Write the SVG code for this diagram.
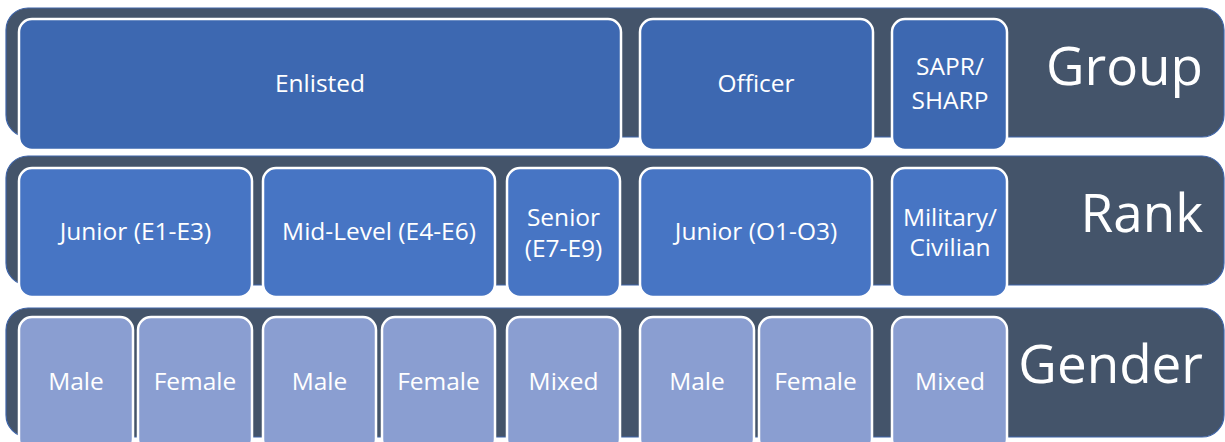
<svg xmlns="http://www.w3.org/2000/svg" width="1225" height="442" viewBox="0 0 1225 442">
<style>
.band{fill:#44546A;stroke:#3E64A8;stroke-width:1.2}
.n{stroke:#FFFFFF;stroke-width:2.5}
.g{fill:#3D68B1}
.r{fill:#4775C4}
.s{fill:#8A9ED1}
text{font-family:"Open Sans","Noto Sans","DejaVu Sans",sans-serif;fill:#FFFFFF}
.t{font-size:24.5px;text-anchor:middle}
.big{font-size:53px;text-anchor:end}
</style>
<rect width="1225" height="442" fill="#FFFFFF"/>
<g id="band-group"><rect class="band" x="6" y="8" width="1218" height="129" rx="22"/><text class="big" x="1203" y="85">Group</text></g>
<g id="band-rank"><rect class="band" x="6" y="156" width="1218" height="129" rx="22"/><text class="big" x="1203" y="232">Rank</text></g>
<g id="band-gender"><rect class="band" x="6" y="308" width="1218" height="129" rx="22"/><text class="big" x="1203" y="383">Gender</text></g>

<g id="enlisted"><rect class="n g" x="19" y="19" width="602" height="131" rx="13"/><text class="t" x="320" y="92">Enlisted</text></g>
<g id="officer"><rect class="n g" x="640" y="19" width="233" height="131" rx="13"/><text class="t" x="756" y="92">Officer</text></g>
<g id="sapr"><rect class="n g" x="892" y="19" width="115" height="131" rx="13"/><text class="t" x="950" y="75">SAPR/</text><text class="t" x="950" y="109">SHARP</text></g>

<g id="junior-e"><rect class="n r" x="19" y="168" width="233" height="129" rx="13"/><text class="t" x="135.5" y="240">Junior (E1-E3)</text></g>
<g id="mid-e"><rect class="n r" x="263" y="168" width="232" height="129" rx="13"/><text class="t" x="379" y="240">Mid-Level (E4-E6)</text></g>
<g id="senior-e"><rect class="n r" x="507" y="168" width="113" height="129" rx="13"/><text class="t" x="563.5" y="226">Senior</text><text class="t" x="563.5" y="257">(E7-E9)</text></g>
<g id="junior-o"><rect class="n r" x="640" y="168" width="232" height="129" rx="13"/><text class="t" x="756" y="240">Junior (O1-O3)</text></g>
<g id="milciv"><rect class="n r" x="892" y="168" width="115" height="129" rx="13"/><text class="t" x="950" y="226" font-size="23">Military/</text><text class="t" x="950" y="256" font-size="23">Civilian</text></g>

<g id="male1"><rect class="n s" x="19" y="317" width="114" height="135" rx="13"/><text class="t" x="76" y="390">Male</text></g>
<g id="female1"><rect class="n s" x="138" y="317" width="114" height="135" rx="13"/><text class="t" x="195" y="390">Female</text></g>
<g id="male2"><rect class="n s" x="263" y="317" width="113" height="135" rx="13"/><text class="t" x="319.5" y="390">Male</text></g>
<g id="female2"><rect class="n s" x="382" y="317" width="113" height="135" rx="13"/><text class="t" x="438.5" y="390">Female</text></g>
<g id="mixed1"><rect class="n s" x="507" y="317" width="113" height="135" rx="13"/><text class="t" x="563.5" y="390">Mixed</text></g>
<g id="male3"><rect class="n s" x="640" y="317" width="114" height="135" rx="13"/><text class="t" x="697" y="390">Male</text></g>
<g id="female3"><rect class="n s" x="759" y="317" width="113" height="135" rx="13"/><text class="t" x="815.5" y="390">Female</text></g>
<g id="mixed2"><rect class="n s" x="892" y="317" width="115" height="135" rx="13"/><text class="t" x="950" y="390">Mixed</text></g>
<g id="connectors"></g>
</svg>
